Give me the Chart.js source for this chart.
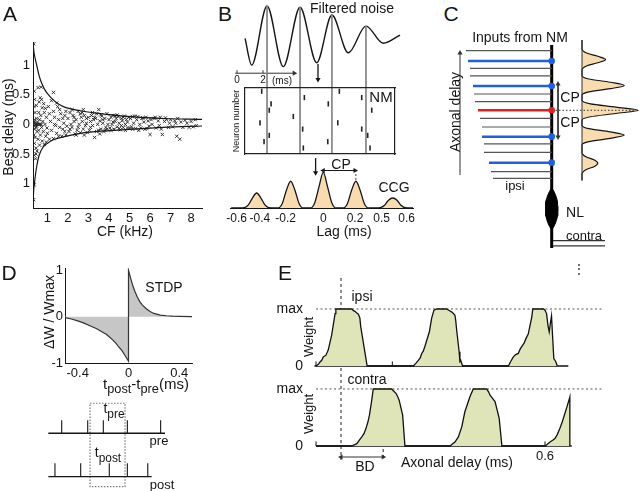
<!DOCTYPE html>
<html>
<head>
<meta charset="utf-8">
<script src="https://cdn.jsdelivr.net/npm/chart.js@4.4.1/dist/chart.umd.min.js"></script>
<style>
  body { margin: 0; background: #fff; }
  #fig { position: relative; width: 640px; height: 491px; overflow: hidden; background: #fff; }
  #fig canvas { position: absolute; }
  .t { position: absolute; white-space: nowrap; line-height: 1; font-family: 'Liberation Sans', Arial, sans-serif; color: #151515; }
  .t sub { font-size: 0.85em; vertical-align: -0.35em; }
</style>
</head>
<body>
<div id="fig"></div>
<script>
// ---------- A : best delay vs CF ----------
const cfDelay = [
  [0.34,1.36],[0.36,0.56],[0.38,0.42],[0.35,0.3],[0.4,0.2],[0.36,0.08],[0.33,0.0],[0.42,0.0],[0.38,-0.08],[0.35,-0.18],
  [0.4,-0.22],[0.37,-0.32],[0.45,-0.4],[0.36,-0.52],[0.42,-0.58],[0.36,-1.02],[0.33,-1.27],[0.48,0.1],[0.5,-0.12],[0.46,0.32],
  [0.55,0.62],[0.7,0.63],[0.65,0.45],[0.72,0.42],[0.6,0.38],[0.82,0.35],[0.75,0.28],[0.9,0.27],[0.58,0.2],[0.85,0.2],
  [0.68,0.15],[0.95,0.12],[0.62,0.08],[0.78,0.05],[0.55,0.0],[0.6,0.0],[0.65,0.0],[0.7,0.0],[0.88,0.0],[0.72,-0.05],
  [0.98,-0.06],[0.58,-0.1],[0.8,-0.12],[0.66,-0.18],[0.92,-0.2],[0.55,-0.25],[0.75,-0.28],[0.62,-0.35],[0.85,-0.34],[0.5,-0.45],
  [0.45,-0.5],[0.95,-0.3],[0.35,0.02],[0.4,-0.02],[0.45,0.01],[0.5,0.0],[0.38,0.05],[0.44,-0.05],[0.52,0.04],[0.48,-0.03],
  [1.05,0.3],[1.1,0.18],[1.15,0.05],[1.2,-0.1],[1.3,0.54],[1.3,0.22],[1.35,0.12],[1.4,-0.02],[1.45,-0.15],[1.5,0.3],
  [1.55,0.08],[1.6,-0.05],[1.65,0.18],[1.7,-0.2],[1.75,0.1],[1.8,0.02],[1.85,-0.12],[1.9,0.22],[1.95,-0.03],[1.1,-0.25],
  [1.3,-0.24],[1.2,0.4],[1.45,0.36],[1.6,0.25],[1.85,0.15],[1.0,-0.15],[1.75,-0.08],[1.55,-0.2],[1.35,0.0],[1.9,-0.18],
  [2.0,0.1],[2.05,-0.12],[2.1,0.2],[2.15,0.0],[2.2,-0.05],[2.25,0.15],[2.3,0.05],[2.35,-0.16],[2.4,0.08],[2.45,-0.1],
  [2.5,0.22],[2.55,0.0],[2.6,-0.14],[2.65,0.12],[2.7,0.05],[2.75,-0.08],[2.8,0.15],[2.85,-0.02],[2.9,0.1],[2.95,-0.14],
  [2.2,0.25],[2.4,-0.18],[2.6,0.18],[2.8,-0.18],[2.1,-0.08],[2.3,0.12],[2.5,-0.05],[2.7,0.2],[2.9,0.02],[2.75,0.25],
  [3.0,0.12],[3.05,-0.1],[3.1,0.05],[3.15,0.15],[3.2,-0.02],[3.25,0.08],[3.3,-0.22],[3.35,0.1],[3.4,-0.12],[3.45,0.0],
  [3.5,0.25],[3.55,0.06],[3.6,-0.08],[3.65,0.14],[3.7,0.02],[3.75,-0.12],[3.8,0.1],[3.85,-0.05],[3.9,0.18],[3.95,0.0],
  [3.1,-0.05],[3.3,0.12],[3.5,-0.1],[3.7,0.08],[3.9,-0.08],[3.4,0.18],[3.6,0.16],[3.8,-0.1],[3.2,0.2],[3.55,-0.16],
  [4.0,0.08],[4.05,-0.06],[4.1,0.12],[4.15,0.0],[4.2,0.15],[4.25,-0.08],[4.3,0.05],[4.35,0.1],[4.4,-0.04],[4.45,0.13],
  [4.5,0.02],[4.55,-0.09],[4.6,0.1],[4.65,0.06],[4.7,-0.05],[4.75,0.14],[4.8,0.0],[4.85,0.08],[4.9,-0.06],[4.95,0.12],
  [4.1,-0.1],[4.3,0.14],[4.5,-0.07],[4.7,0.12],[4.9,0.04],[4.2,0.04],[4.6,-0.02],[4.8,-0.1],[4.4,0.16],[5.0,-0.06],
  [5.05,0.1],[5.1,-0.04],[5.15,0.13],[5.2,0.02],[5.3,-0.07],[5.35,0.08],[5.4,0.13],[5.5,0.0],[5.55,-0.06],[5.6,0.1],
  [5.7,0.04],[5.75,-0.08],[5.8,0.12],[5.9,0.06],[5.95,-0.03],[5.25,0.14],[5.45,-0.1],[5.65,0.11],[5.85,-0.07],[5.15,-0.08],
  [6.0,-0.17],[6.05,0.08],[6.1,0.0],[6.2,0.1],[6.3,-0.06],[6.4,0.06],[6.5,0.12],[6.55,-0.08],[6.6,-0.17],[6.7,0.05],
  [6.8,0.08],[6.9,-0.05],[6.25,0.12],[6.45,-0.02],[6.75,0.11],[6.95,0.02],
  [7.0,0.08],[7.1,-0.04],[7.2,0.06],[7.3,-0.2],[7.35,0.1],[7.45,-0.25],[7.5,0.04],[7.6,-0.05],[7.7,0.07],[7.8,0.02],
  [7.9,-0.05],[8.0,0.05],[8.1,-0.04],[8.2,0.08],[8.25,-0.02],[7.25,0.02]
];
const envUpper = [[0.31,1.39],[0.32,1.31],[0.4,1.12],[0.48,1.0],[0.6,0.82],[0.73,0.69],[0.9,0.57],[1.13,0.47],[1.4,0.38],
  [1.78,0.3],[2.6,0.23],[3.41,0.19],[5.04,0.13],[6.66,0.1],[8.53,0.086]];
const envLower = [[0.31,-1.41],[0.32,-1.22],[0.37,-1.0],[0.42,-0.85],[0.48,-0.71],[0.6,-0.52],[0.8,-0.38],[1.0,-0.32],
  [1.29,-0.26],[1.78,-0.21],[2.6,-0.15],[3.4,-0.12],[5.0,-0.083],[6.66,-0.05],[8.53,-0.027]];
const cfTicks = [1, 2, 3, 4, 5, 6, 7, 8];
const delayTicks = [-1, -0.5, 0, 0.5, 1];
const delayTickText = ['1', '0.5', '0', '0.5', '1'];

// ---------- B : filtered noise, NM raster, CCG ----------
const noisePts = [[0.62,-0.08],[1.13,-0.97],[2.31,1.0],[3.56,-1.02],[4.85,0.96],[6.13,-0.89],[7.3,0.7],[8.56,-0.56],[9.92,0.33],[11.25,-0.24],[12.54,0.03]];
const peakTimes = [2.31, 4.85, 7.3, 9.92];
const peakVals = [1.0, 0.96, 0.7, 0.33];
const spikeT = [1.9,7.87,5.18,9.59,2.62,7.02,2.48,10.36,4.33,1.77,7.75,5.05,9.59,2.48,10.05,2.08,6.98,5.1,10.23];
const spikeN = [10,10,9,9,8,8,7,7,6,5,5,4,4,3,3,2,2,1,1];
const ccgPts = [[-0.65,0],[-0.57,0],[-0.53,0.08],[-0.5,0.28],[-0.47,0.42],[-0.44,0.28],[-0.41,0.08],[-0.37,0],
  [-0.32,0],[-0.29,0.12],[-0.26,0.5],[-0.23,0.75],[-0.2,0.5],[-0.17,0.12],[-0.14,0],
  [-0.09,0],[-0.06,0.15],[-0.03,0.6],[0,1],[0.03,0.6],[0.06,0.15],[0.09,0],
  [0.14,0],[0.17,0.12],[0.2,0.5],[0.23,0.75],[0.26,0.5],[0.29,0.12],[0.32,0],
  [0.39,0],[0.43,0.07],[0.46,0.22],[0.49,0.28],[0.52,0.22],[0.55,0.07],[0.59,0],[0.65,0]];
const lagTicks = [-0.611, -0.447, -0.265, 0, 0.224, 0.412, 0.588];
const lagTickText = ['-0.6', '-0.4', '-0.2', '0', '0.2', '0.5', '0.6'];
const cpLag = 0.23;

// ---------- C : inputs from NM ----------
const rowDelay = [0.552,0.456,0.389,0.318,0.225,0.151,0.08,0,-0.074,-0.155,-0.244,-0.312,-0.389,-0.485,-0.569,-0.63];
const rowStart = [26,28,30,30,33,34,35,38,40,42,42,44,44,49,51,53];
const rowKind = ['g','b','g','g','b','g','g','r','g','g','b','g','g','b','g','g'];
const nlDelay = [-1.108,-1.076,-1.043,-1.011,-0.978,-0.946,-0.914,-0.881,-0.849,-0.816,-0.784,-0.751,-0.719];
const nlHalf = [0,2.2,3.8,5,5.8,6.2,6.3,6.2,5.8,5,3.8,2.2,0];

// ---------- D : STDP ----------
const stdpPts = [[-0.5,-0.02],[-0.45,-0.05],[-0.4,-0.09],[-0.35,-0.14],[-0.3,-0.2],[-0.25,-0.26],[-0.2,-0.34],[-0.175,-0.38],
  [-0.15,-0.44],[-0.125,-0.5],[-0.1,-0.57],[-0.075,-0.66],[-0.05,-0.74],[-0.025,-0.85],[0,-0.96],[0,1.0],[0.01,0.9],
  [0.02,0.8],[0.035,0.66],[0.05,0.55],[0.07,0.42],[0.09,0.32],[0.11,0.25],[0.14,0.17],[0.17,0.11],[0.2,0.07],
  [0.25,0.035],[0.3,0.02],[0.35,0.01],[0.4,0.005],[0.5,0]];
const stdpXTicks = [-0.4, 0, 0.4];
const stdpYTicks = [-1, 0, 1];
const preSpikes = [1.67, 3.67, 4.87, 6.72, 9.28];
const postSpikes = [1.15, 3.13, 5.33, 6.72, 8.29];

// ---------- E : learned weights ----------
const ipsiW = [[0,0],[0.006,0.03],[0.0105,0.07],[0.015,0.1],[0.019,0.16],[0.026,0.19],[0.032,0.28],[0.041,0.54],[0.05,0.92],
  [0.052,1],[0.0935,1],[0.098,0.97],[0.102,0.96],[0.107,0.93],[0.111,0.91],[0.115,0.84],[0.117,0.7],[0.134,0],
  [0.255,0],[0.262,0.05],[0.268,0.1],[0.273,0.14],[0.277,0.22],[0.281,0.26],[0.286,0.36],[0.297,0.6],[0.303,0.84],
  [0.309,0.98],[0.316,1],[0.342,1],[0.35,0.97],[0.355,0.95],[0.36,0.92],[0.364,0.89],[0.366,0.8],[0.369,0.6],
  [0.375,0.25],[0.377,0.08],[0.379,0.1],[0.384,0],
  [0.504,0],[0.51,0.08],[0.517,0.16],[0.523,0.2],[0.53,0.22],[0.535,0.3],[0.539,0.34],[0.545,0.4],[0.55,0.48],
  [0.556,0.56],[0.561,0.72],[0.565,0.85],[0.568,1],[0.596,1],[0.6,0.98],[0.604,0.92],[0.608,0.7],[0.611,0.6],
  [0.614,0.75],[0.617,0.88],[0.62,0.5],[0.623,0.13],[0.628,0.08],[0.632,0]];
const contraW = [[0,0],[0.0935,0],[0.1,0.02],[0.107,0.04],[0.113,0.1],[0.12,0.16],[0.126,0.22],[0.131,0.31],[0.136,0.42],
  [0.14,0.54],[0.146,0.8],[0.15,1],[0.198,1],[0.204,0.96],[0.21,0.92],[0.215,0.85],[0.218,0.8],[0.227,0.54],[0.233,0],
  [0.351,0],[0.358,0.04],[0.364,0.07],[0.373,0.16],[0.382,0.34],[0.39,0.6],[0.396,0.72],[0.403,0.86],[0.412,1],
  [0.447,1],[0.452,0.95],[0.456,0.89],[0.462,0.84],[0.469,0.78],[0.475,0.62],[0.48,0.48],[0.487,0],
  [0.6,0],[0.606,0.03],[0.613,0.07],[0.62,0.1],[0.626,0.13],[0.632,0.2],[0.639,0.31],[0.645,0.42],[0.652,0.57],
  [0.658,0.7],[0.665,0.86],[0.665,0]];
const bdStart = 0.0655, bdEnd = 0.176;

// ---------- helpers ----------
Chart.defaults.font.family = "'Liberation Sans', Arial, sans-serif";
Chart.defaults.color = '#151515';
const fig = document.getElementById('fig');
const INK = '#151515';

function canvasAt(x, y, w, h) {
  const c = document.createElement('canvas');
  c.width = w; c.height = h;
  c.style.left = x + 'px'; c.style.top = y + 'px';
  c.style.width = w + 'px'; c.style.height = h + 'px';
  fig.appendChild(c);
  return c;
}
function label(html, x, y, size, rot) {
  const d = document.createElement('div');
  d.className = 't';
  d.innerHTML = html;
  d.style.left = x + 'px'; d.style.top = y + 'px'; d.style.fontSize = size + 'px';
  d.style.transform = 'translate(-50%,-50%)' + (rot ? ' rotate(' + rot + 'deg)' : '');
  fig.appendChild(d);
}
const xy = pts => pts.map(p => ({x: p[0], y: p[1]}));
function seg(pts, color, width, extra) {
  return Object.assign({data: xy(pts), borderColor: color, borderWidth: width, pointRadius: 0, fill: false, tension: 0}, extra || {});
}
function arrow(pts, color, width, rotStart, rotEnd) {
  return seg(pts, color, width, {
    pointStyle: 'triangle',
    pointRadius: [rotStart == null ? 0 : 3, rotEnd == null ? 0 : 3],
    pointRotation: [rotStart || 0, rotEnd || 0],
    pointBackgroundColor: color, pointBorderColor: color, pointBorderWidth: 0
  });
}
function draw(canvas, datasets, scales, padding, extra) {
  return new Chart(canvas, {
    type: 'line',
    data: {datasets},
    options: Object.assign({
      responsive: false, animation: false, events: [],
      layout: {padding: padding || 0, autoPadding: false},
      plugins: {legend: {display: false}, tooltip: {enabled: false}},
      scales
    }, extra || {})
  });
}
const hid = (min, max) => ({type: 'linear', display: false, min, max});
function axis(min, max, vals, text, size, pad, fs, border) {
  return {
    type: 'linear', min, max,
    afterBuildTicks: s => { s.ticks = vals.map(v => ({value: v})); },
    afterFit: s => { if (s.isHorizontal()) s.height = size; else s.width = size; },
    grid: {display: false, drawTicks: false},
    border: {display: border !== false, color: INK, width: 1},
    ticks: {autoSkip: false, maxRotation: 0, padding: pad, color: INK, font: {size: fs}, callback: (v, i) => text[i]}
  };
}
function frame(pos, min, max) {
  return {
    type: 'linear', position: pos, display: true, min, max,
    afterFit: s => { if (s.isHorizontal()) s.height = 1; else s.width = 1; },
    grid: {display: false, drawTicks: false},
    border: {display: true, color: '#222', width: 1.2},
    ticks: {display: false}
  };
}

// ---------- A ----------
draw(canvasAt(0, 0, 215, 245), [
  seg(envUpper, INK, 1.2, {cubicInterpolationMode: 'monotone'}),
  seg(envLower, INK, 1.2, {cubicInterpolationMode: 'monotone'}),
  {data: xy(cfDelay), showLine: false, pointStyle: 'crossRot', pointRadius: 2.3,
   pointBorderColor: '#222', pointBorderWidth: 0.9, borderColor: '#222'}
], {
  x: axis(0.3, 8.53, cfTicks, cfTicks.map(String), 37, 3, 13),
  y: axis(-1.41, 1.39, delayTicks, delayTickText, 33, 3, 13)
}, {top: 42, right: 13, left: 0, bottom: 0});

// ---------- B waveform ----------
const peakLineSets = peakTimes.map((t, i) => seg([[t, peakVals[i]], [t, -3.93]], '#888', 1));
draw(canvasAt(234, 0, 167, 154), [
  ...peakLineSets,
  seg(noisePts, INK, 1.4, {cubicInterpolationMode: 'monotone'}),
  arrow([[-0.15, -1.24], [4.4, -1.24]], '#333', 1, null, 90),
  seg([[0, -1.24], [0, -1.14]], '#333', 1),
  seg([[2, -1.24], [2, -1.14]], '#333', 1),
  arrow([[6.23, -0.93], [6.23, -1.45]], INK, 1.3, null, 180)
], {x: hid(-0.2308, 12.615), y: hid(-3.933, 1.2)});

// ---------- B raster ----------
draw(canvasAt(244, 87, 152, 68), [
  {data: spikeT.map((t, i) => ({x: t, y: spikeN[i]})), showLine: false, pointStyle: 'line', pointRotation: 90,
   pointRadius: 2.6, pointBorderWidth: 1.6, pointBorderColor: '#222', borderColor: '#222'}
], {
  x: frame('bottom', 0.615, 12.15), x2: frame('top', 0, 1),
  y: frame('left', 0.048, 10.52), y2: frame('right', 0, 1)
});

// ---------- B CCG ----------
draw(canvasAt(220, 155, 203, 90), [
  seg(ccgPts, INK, 1.3, {fill: 'origin', backgroundColor: '#f9dbb0', cubicInterpolationMode: 'monotone'}),
  seg([[0, 0], [0, 1.05]], '#444', 1, {borderDash: [2, 2]}),
  seg([[cpLag, 0], [cpLag, 1.05]], '#444', 1, {borderDash: [2, 2]}),
  arrow([[0, 1.05], [0.224, 1.05]], INK, 1, 270, 90),
  arrow([[-0.054, 1.4], [-0.054, 0.99]], INK, 1.3, null, 180)
], {
  x: axis(-0.658, 0.633, lagTicks, lagTickText, 37, 3, 12),
  y: hid(0, 1.485)
}, {left: 10, right: 10, top: 0, bottom: 0});

// ---------- C ----------
const kindColor = {g: '#555', b: '#1f5fe0', r: '#e02020'};
const rowSets = rowDelay.map((d, i) => {
  const k = rowKind[i];
  const c = kindColor[k];
  return seg([[rowStart[i], d], [111.7, d]], c, k === 'g' ? 1.2 : 2.5,
    k === 'g' ? {} : {pointRadius: [0, 3.3], pointBackgroundColor: c, pointBorderColor: c, pointBorderWidth: 0});
});
const ccgBaseC = 142, ccgAmpC = 56.3;
const ccgC = ccgPts.slice().reverse().map(p => [ccgBaseC + p[1] * ccgAmpC, -p[0]]);
draw(canvasAt(440, 40, 200, 210), [
  ...rowSets.filter((s, i) => rowKind[i] === 'g'),
  ...rowSets.filter((s, i) => rowKind[i] !== 'g'),
  seg([[111.7, 0.605], [111.7, -1.275]], '#000', 3),
  seg(nlDelay.map((d, i) => [111.7 + nlHalf[i], d]), '#000', 1, {fill: {value: 111.7}, backgroundColor: '#000'}),
  seg(nlDelay.map((d, i) => [111.7 - nlHalf[i], d]), '#000', 1, {fill: {value: 111.7}, backgroundColor: '#000'}),
  seg([[113, -1.207], [165, -1.207]], '#333', 1.2),
  seg([[113, -1.256], [165, -1.256]], '#333', 1.2),
  arrow([[20, -0.6], [20, 0.53]], '#333', 1, null, 0),
  arrow([[118, 0.244], [118, -0.247]], '#333', 1, 0, 180),
  seg([[112, 0], [195, 0]], '#333', 1, {borderDash: [1.5, 2]}),
  seg([[ccgBaseC, -0.65], [ccgBaseC, 0.65]], '#333', 1),
  seg(ccgC, INK, 1.2, {fill: {value: ccgBaseC}, backgroundColor: '#f9dbb0', cubicInterpolationMode: 'monotone'})
], {x: hid(0, 200), y: hid(-1.294, 0.651)}, 0, {indexAxis: 'y'});

// ---------- D STDP ----------
draw(canvasAt(40, 258, 160, 130), [
  seg(stdpPts, '#333', 1.2, {fill: 'origin', backgroundColor: '#c6c6c6'})
], {
  x: axis(-0.5, 0.5, stdpXTicks, ['-0.4', '0', '0.4'], 25, 3, 13),
  y: axis(-1, 1.05, stdpYTicks, ['-1', '0', '1'], 25, 2, 13)
}, {top: 10, right: 8, left: 0, bottom: 0});

// ---------- D spike trains ----------
draw(canvasAt(40, 395, 140, 96), [
  seg([[0.64, 1], [9.62, 1]], INK, 1.3),
  seg([[0.64, 0], [8.59, 0]], INK, 1.3),
  ...preSpikes.map(t => seg([[t, 1], [t, 1.3]], INK, 1.1)),
  ...postSpikes.map(t => seg([[t, 0], [t, 0.31]], INK, 1.1)),
  seg([[3.85, 1.69], [6.54, 1.69], [6.54, -0.23], [3.85, -0.23], [3.85, 1.69]], '#777', 1.2, {borderDash: [1.5, 1.5]})
], {x: hid(0, 10.77), y: hid(-0.33, 1.88)});

// ---------- E ipsi (canvas padded so tick-label padding does not shrink the plot) ----------
const eY = (min, max) => axis(min, max, [0, 1], ['0', 'max'], 44, 11, 14, false);
draw(canvasAt(270, 250, 334, 138), [
  seg(ipsiW, '#111', 1.3, {fill: 'origin', backgroundColor: '#dfe5b9'}),
  seg([[-0.004, 0], [0.661, 0]], '#111', 1.6),
  ...[0, 0.2, 0.6].map(t => seg([[t, 0], [t, 0.08]], '#111', 1)),
  seg([[0, 1], [0.7545, 1]], '#555', 1, {borderDash: [2, 2.5]}),
  seg([[bdStart, 1.544], [bdStart, -0.035]], '#222', 1, {borderDash: [3, 3]})
], {x: hid(-0.00524, 0.7545), y: eY(-0.035, 1.684)}, {top: 20, bottom: 20, left: 0, right: 0});

// ---------- E contra ----------
draw(canvasAt(270, 348, 334, 142), [
  seg(contraW, '#111', 1.3, {fill: 'origin', backgroundColor: '#dfe5b9'}),
  seg([[0, 0], [0.67, 0]], '#111', 1.6),
  ...[0, 0.2, 0.4, 0.6].map(t => seg([[t, 0], [t, 0.08]], '#111', 1)),
  seg([[0, 1], [0.7545, 1]], '#555', 1, {borderDash: [2, 2.5]}),
  seg([[bdStart, 1.368], [bdStart, -0.246]], '#222', 1, {borderDash: [3, 3]}),
  seg([[bdEnd, 1.0], [bdEnd, -0.246]], '#222', 1, {borderDash: [3, 3]}),
  arrow([[bdStart, -0.193], [bdEnd, -0.193]], '#333', 1, 270, 90)
], {x: hid(-0.00524, 0.7545), y: eY(-0.421, 1.368)}, {top: 20, bottom: 20, left: 0, right: 0});

// ---------- text ----------
label('A', 10, 13, 21);
label('Best delay (ms)', 8, 127, 14, -90);
label('CF (kHz)', 125, 231, 14);

label('B', 225, 13, 21);
label('Filtered noise', 352, 8, 14);
label('0', 237, 80, 10);
label('2', 263, 80, 10);
label('(ms)', 282, 81, 10);
label('NM', 381, 96, 15);
label('Neuron number', 236, 121, 9, -90);
label('CP', 341, 164, 14);
label('CCG', 394, 187, 14);
label('Lag (ms)', 344, 231, 14);

label('C', 451, 13, 21);
label('Inputs from NM', 520, 37, 14);
label('Axonal delay', 455, 112, 14, -90);
label('CP', 570, 97, 14);
label('CP', 570, 122, 14);
label('ipsi', 515, 185, 13);
label('NL', 575, 212, 14);
label('contra', 584, 235, 13);

label('D', 9, 272, 21);
label('STDP', 164, 287, 14);
label('ΔW / Wmax', 49, 312, 14, -90);
label('t<sub>post</sub>-t<sub>pre</sub>(ms)', 146, 386, 15);
label('t<sub>pre</sub>', 114, 411, 14);
label('pre', 159, 440, 13);
label('t<sub>post</sub>', 108, 455, 14);
label('post', 162, 484, 13);

label('E', 285, 272, 21);
label('⋮', 579, 269, 12);
label('ipsi', 362, 296, 14);
label('contra', 367, 379, 14);
label('Weight', 308, 337, 13, -90);
label('Weight', 308, 414, 13, -90);
label('BD', 365, 466, 14);
label('Axonal delay (ms)', 457, 462, 14);
label('0.6', 545, 455, 13);
</script>
</body>
</html>
